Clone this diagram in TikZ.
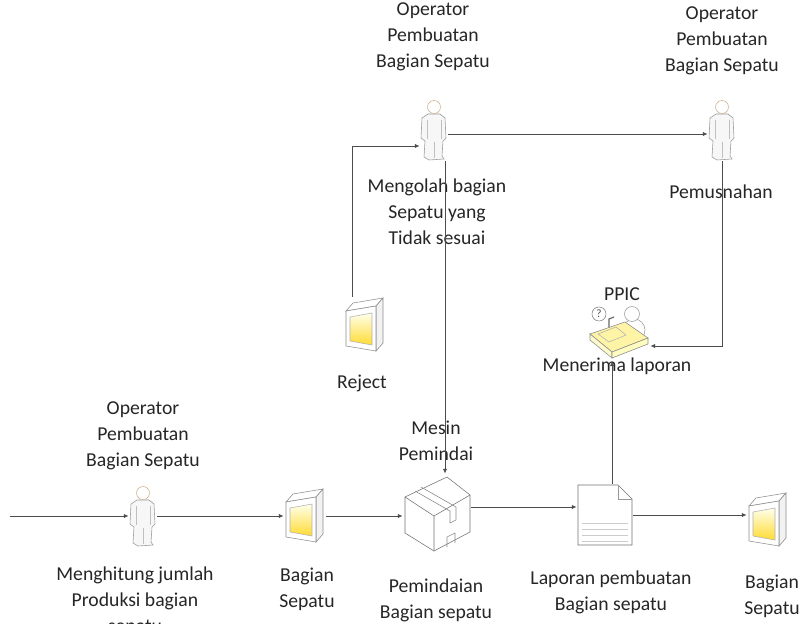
\documentclass[tikz,border=0pt]{standalone}
\usepackage{fontspec}
\setmainfont{Carlito}
\usetikzlibrary{arrows.meta,calc}

% icons are drawn in pixel units around the node centre (y grows downwards)
\tikzset{
  flow/.style={draw=black!70, line width=0.6pt, -{Latex[length=3.5pt,width=3pt]}},
  lbl/.style={font=\fontsize{14}{18.5}\selectfont, align=center, inner sep=0pt, text=black!85},
  icon/.style={inner sep=0pt, draw=none},
  actor/.style={icon, minimum width=0.7cm, minimum height=1.55cm,
    path picture={
      \begin{scope}[shift={(path picture bounding box.center)}]
        \filldraw[draw=black!40, fill=black!3] (-6,-16) -- (6,-16) -- (11,-12) -- (12,8) -- (9,11)
          -- (8,26) -- (10,29) -- (-5,30) -- (-10,27) -- (-9,11) -- (-13,8) -- (-12,-12) -- cycle;
        \draw[black!25] (-7,-10) -- (-7,9) (7,-10) -- (7,9) (0,12) -- (0,28);
        \filldraw[draw=orange!60!black!45, fill=white] (0,-23) circle (6.5);
      \end{scope}}},
  book/.style={icon, minimum width=1.05cm, minimum height=1.4cm,
    path picture={
      \begin{scope}[shift={(path picture bounding box.center)}]
        \filldraw[draw=black!45, fill=white] (-19,-14) -- (-12,-22) -- (18,-27) -- (11,-19) -- cycle;
        \filldraw[draw=black!45, fill=black!5] (11,-19) -- (18,-27) -- (18,18) -- (11,26) -- cycle;
        \filldraw[draw=black!45, fill=white] (-19,-14) -- (11,-19) -- (11,26) -- (-19,21) -- cycle;
        \shade[top color=yellow!8, bottom color=yellow!65!orange!80] (-15,-8) -- (7,-12) -- (7,20) -- (-15,16) -- cycle;
        \draw[black!30] (-15,-8) -- (7,-12) -- (7,20) -- (-15,16) -- cycle;
      \end{scope}}},
  carton/.style={icon, minimum width=1.7cm, minimum height=1.95cm,
    path picture={
      \begin{scope}[shift={(path picture bounding box.center)}]
        \filldraw[draw=black!55, fill=white] (10,-36) -- (33,-18) -- (33,19) -- (-3,38)
          -- (-32,20) -- (-32,-16) -- cycle;
        \draw[black!55] (-32,-16) -- (-3,3) -- (33,-18) (-3,3) -- (-3,38);
        \draw[black!45] (-22,-22) -- (13,-2) -- (13,10) (-16,-26) -- (19,-6) -- (19,7) -- (13,10);
        \draw[black!45] (10,24) -- (18,20) -- (18,30) (10,24) -- (10,34);
      \end{scope}}},
  report/.style={icon, minimum width=1.4cm, minimum height=1.55cm,
    path picture={
      \begin{scope}[shift={(path picture bounding box.center)}]
        \filldraw[draw=black!55, fill=white] (-27,-30) -- (13,-30) -- (27,-16) -- (27,30) -- (-27,30) -- cycle;
        \draw[black!40] (13,-30) -- (13,-16) -- (27,-16);
        \foreach \ly in {8,14,20,26}
          \draw[black!20] (-23,\ly) -- (23,\ly);
      \end{scope}}},
  clerk/.style={icon, minimum width=1.9cm, minimum height=1.4cm,
    path picture={
      \begin{scope}[shift={(path picture bounding box.center)}]
        \filldraw[draw=black!40, fill=white] (22,-3) ellipse (11 and 11);
        \filldraw[draw=black!40, fill=white] (20,-19) circle (7.5);
        \filldraw[draw=black!50, fill=white] (-13,-19) circle (7);
        \node[font=\fontsize{8}{8}\selectfont, text=black!70] at (-13,-19) {?};
        \draw[black!60, line width=0.8pt] (-3,-4) -- (-3,-14) -- (2,-16);
        \filldraw[draw=black!45, fill=orange!25!yellow!35] (-22,1) -- (13,-11) -- (36,5) -- (0,19) -- cycle;
        \filldraw[draw=black!45, fill=orange!20!yellow!20] (-22,1) -- (0,19) -- (0,25) -- (-22,7) -- cycle;
        \filldraw[draw=black!45, fill=yellow!25] (0,19) -- (36,5) -- (36,11) -- (0,25) -- cycle;
        \draw[black!30] (-14,1) -- (4,-6) -- (14,2) -- (-3,9) -- cycle;
      \end{scope}}}
}

\begin{document}
\begin{tikzpicture}[x=0.025cm, y=-0.025cm]
\useasboundingbox (0,0) rectangle (803,624);
\fill[white] (0,0) rectangle (803,624);
\clip (0,0) rectangle (803,624);

% icons
\node[actor] (op1) at (143,516) {};
\node[book] (bk1) at (305,516) {};
\node[carton] (mesin) at (437,513) {};
\node[report] (lap) at (605,515) {};
\node[book] (bk2) at (768,520) {};
\node[clerk] (ppic) at (612,333) {};
\node[book] (rej) at (365,325) {};
\node[actor] (op2) at (434,130) {};
\node[actor] (op3) at (722,130) {};

% texts
\node[lbl] (op1top) at (143,436) {Operator\\Pembuatan\\Bagian Sepatu};
\node[lbl] (op1bot) at (135,601) {Menghitung jumlah\\Produksi bagian\\sepatu};
\node[lbl] (bk1bot) at (307,589) {Bagian\\Sepatu};
\node[lbl] (mesintop) at (436,441) {Mesin\\Pemindai};
\node[lbl] (mesinbot) at (436,600) {Pemindaian\\Bagian sepatu};
\node[lbl] (lapbot) at (611,592) {Laporan pembuatan\\Bagian sepatu};
\node[lbl] (bk2bot) at (772,596) {Bagian\\Sepatu};
\node[lbl] (ppictop) at (622,294) {PPIC};
\node[lbl] (ppicbot) at (617,366) {Menerima laporan};
\node[lbl] (rejbot) at (362,383) {Reject};
\node[lbl] (op2top) at (433,37) {Operator\\Pembuatan\\Bagian Sepatu};
\node[lbl] (op2bot) at (437,212) {Mengolah bagian\\Sepatu yang\\Tidak sesuai};
\node[lbl] (op3top) at (722,41) {Operator\\Pembuatan\\Bagian Sepatu};
\node[lbl] (op3bot) at (721,192) {Pemusnahan};

% connectors
\coordinate (feed) at (10,516);
\coordinate (m1) at ($(mesin.east)+(0,-6)$);
\coordinate (p1) at ($(ppic.east)+(0,13)$);
\coordinate (r1) at ($(rej.north)+(-13,0)$);
\coordinate (r2) at ($(op2.west)+(0,16)$);
\coordinate (o1) at ($(op2.south)+(11,0)$);

\draw[flow] (feed) -- (op1);
\draw[flow] (op1) -- (bk1);
\draw[flow] (bk1) -- (bk1 -| mesin.west);
\draw[flow] (m1) -- (m1 -| lap.west);
\draw[flow] (lap) -- (lap -| bk2.west);
\draw[flow] (ppic |- lap.north) -- (ppic);
\draw[flow] (op3) |- (p1);
\draw[flow] ($(op2.east)+(0,4)$) -- ($(op3.west)+(0,4)$);
\draw[flow] (r1) |- (r2);
\draw[flow] (o1) -- (o1 |- mesin.north);
\end{tikzpicture}
\end{document}
